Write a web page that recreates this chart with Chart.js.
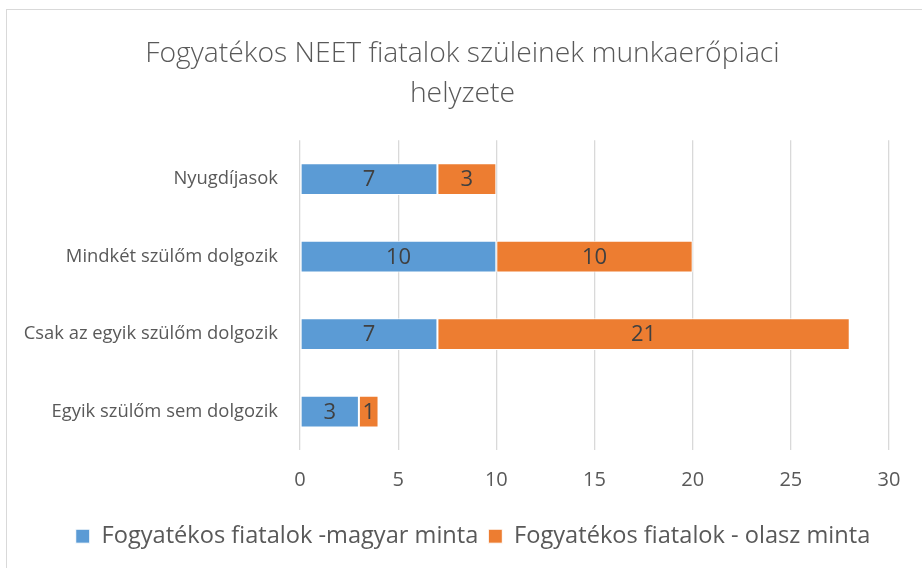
<!DOCTYPE html>
<html>
<head>
<meta charset="utf-8">
<script src="https://cdn.jsdelivr.net/npm/chart.js@4/dist/chart.umd.min.js"></script>
<style>
html,body{margin:0;padding:0;background:#fff;overflow:hidden;}
#frame{position:absolute;left:6px;top:9px;width:930px;height:580px;border:1px solid #d9d9d9;box-sizing:border-box;}
#wrap{position:absolute;left:0;top:0;width:922px;height:568px;}
</style>
</head>
<body>
<div id="frame"></div>
<div id="wrap"><canvas id="c" width="922" height="568"></canvas></div>
<script>
const categories = ["Nyugdíjasok", "Mindkét szülőm dolgozik", "Csak az egyik szülőm dolgozik", "Egyik szülőm sem dolgozik"];
const seriesNames = ["Fogyatékos fiatalok -magyar minta", "Fogyatékos fiatalok - olasz minta"];
const magyarValues = [7, 10, 7, 3];
const olaszValues = [3, 10, 21, 1];
const titleLines = ["Fogyatékos NEET fiatalok szüleinek munkaerőpiaci", "helyzete"];
const xMin = 0, xMax = 30, xStep = 5;

const FONT = "'Open Sans', Lato, sans-serif";

const labelPlugin = {
  id: 'segLabels',
  afterLayout(chart) {
    // re-centre title and legend over the framed chart region
    if (chart.titleBlock) { chart.titleBlock.left = 36; chart.titleBlock.right = 889; chart.titleBlock.width = 853; }
    if (chart.legend) { chart.legend.left = 56; chart.legend.right = 890; chart.legend.width = 834; }
  },
  afterDatasetsDraw(chart) {
    const ctx = chart.ctx;
    ctx.save();
    ctx.font = "22px " + FONT;
    ctx.fillStyle = "#404040";
    ctx.textAlign = "center";
    ctx.textBaseline = "middle";
    chart.data.datasets.forEach((ds, di) => {
      const meta = chart.getDatasetMeta(di);
      meta.data.forEach((el, i) => {
        const v = ds.data[i];
        const p = el.getProps(['x', 'y', 'base'], true);
        ctx.fillText(String(v), (p.x + p.base) / 2, p.y + 1);
      });
    });
    ctx.restore();
  }
};

new Chart(document.getElementById('c'), {
  type: 'bar',
  data: {
    labels: categories,
    datasets: [
      { label: seriesNames[0], data: magyarValues, backgroundColor: '#5B9BD5', borderColor: '#ffffff', borderWidth: 1, borderSkipped: false },
      { label: seriesNames[1], data: olaszValues, backgroundColor: '#ED7D31', borderColor: '#ffffff', borderWidth: 1, borderSkipped: false }
    ]
  },
  options: {
    indexAxis: 'y',
    responsive: false,
    animation: false,
    devicePixelRatio: 1,
    datasets: { bar: { categoryPercentage: 1, barPercentage: 0.41 } },
    layout: { padding: { top: 8, left: 0, right: 33, bottom: 10 } },
    scales: {
      x: {
        stacked: true,
        min: xMin, max: xMax,
        ticks: { stepSize: xStep, color: '#595959', font: { family: FONT, size: 20 }, padding: 18 },
        grid: { color: '#d9d9d9', lineWidth: 1.3, drawTicks: false },
        border: { display: false },
        afterFit(s) { s.height = 64; }
      },
      y: {
        stacked: true,
        ticks: { color: '#595959', font: { family: FONT, size: 18.4 }, padding: 22 },
        grid: { display: false, drawTicks: false },
        border: { display: false },
        afterFit(s) { s.width = 300; }
      }
    },
    plugins: {
      title: {
        display: true,
        text: titleLines,
        color: '#595959',
        font: { family: FONT, size: 28.3, weight: '300', lineHeight: 1.42 },
        padding: { top: 26, bottom: 26 }
      },
      legend: {
        position: 'bottom',
        labels: { color: '#595959', font: { family: FONT, size: 23.6 }, boxWidth: 14, boxHeight: 14, padding: 10 }
      },
      tooltip: { enabled: false }
    }
  },
  plugins: [labelPlugin]
});
</script>
</body>
</html>
